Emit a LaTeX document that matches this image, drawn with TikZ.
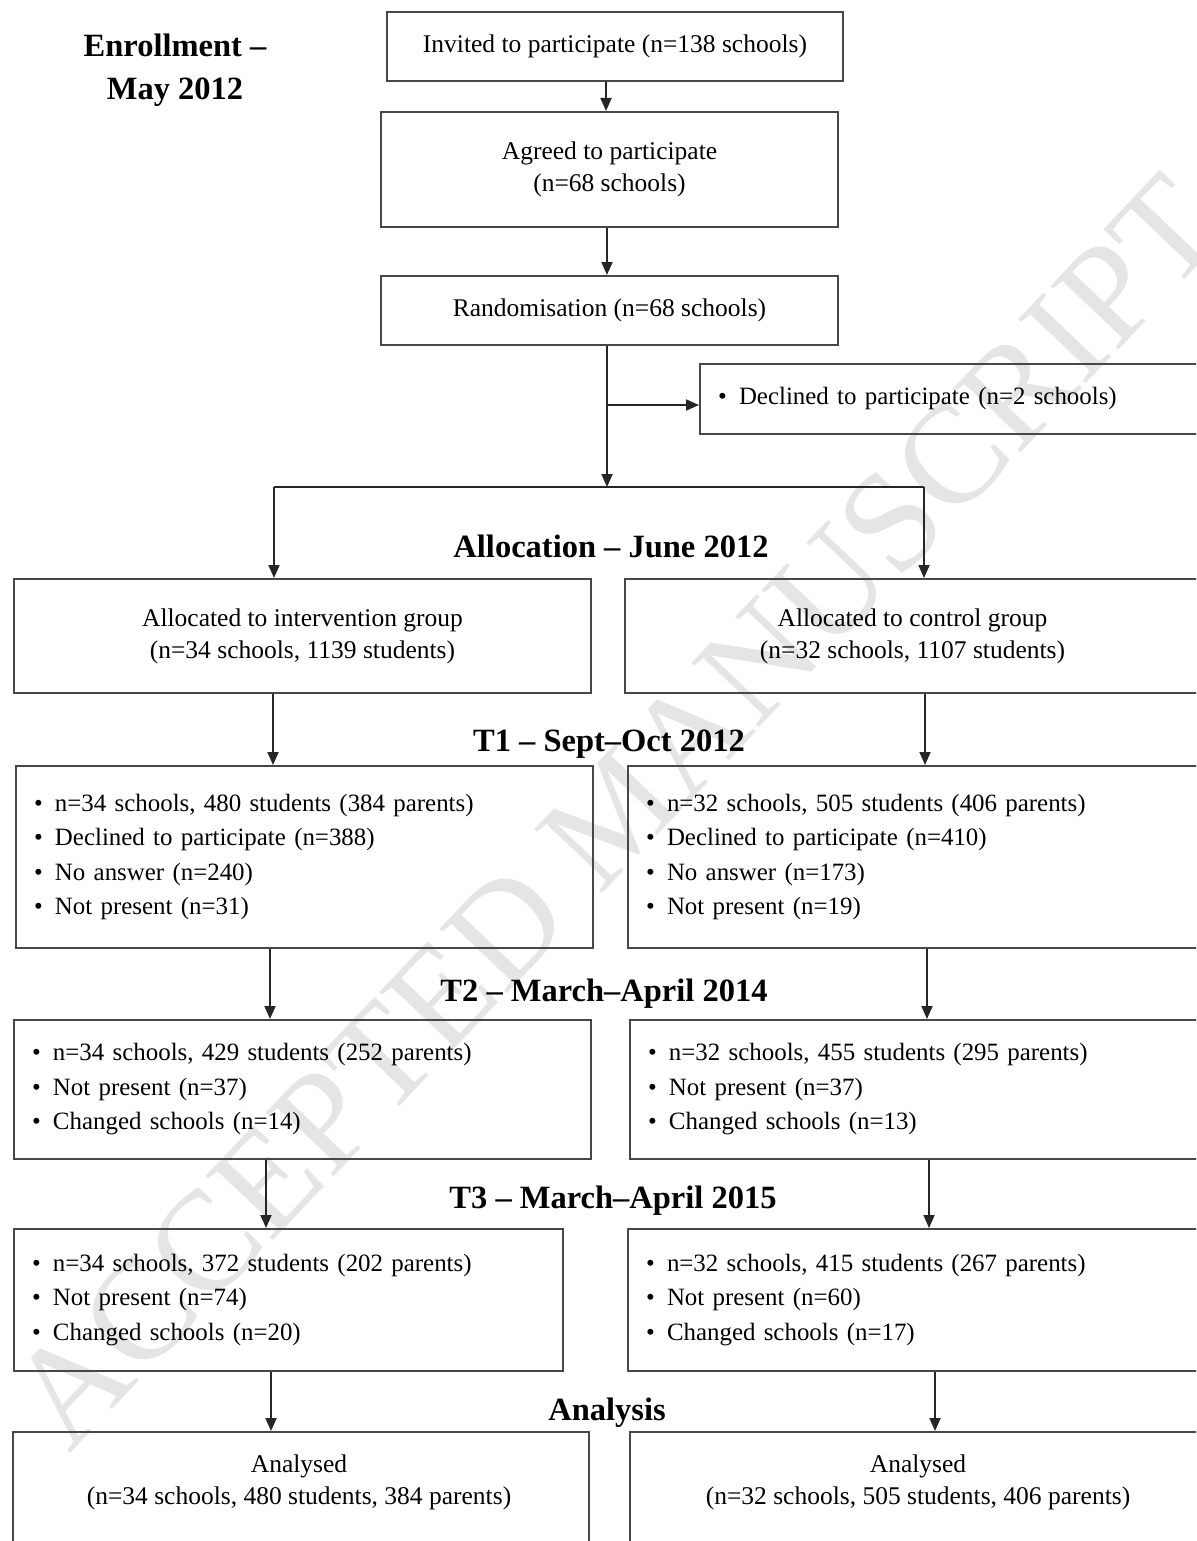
\documentclass[tikz,border=0pt]{standalone}
\usepackage{fontspec}
\setmainfont{Liberation Serif}
\usetikzlibrary{arrows.meta}
\newcommand{\bul}{\makebox[21pt][l]{\textbullet}}
\begin{document}
\begin{tikzpicture}[x=1pt,y=-1pt,
  box/.style={draw=black!72, line width=2pt, rectangle, inner sep=0pt, anchor=north west},
  ctext/.style={align=center, font=\fontsize{25.5}{32}\selectfont},
  btext/.style={align=left, inner xsep=18pt, font=\fontsize{24.9}{34.5}\selectfont},
  hdr/.style={font=\bfseries\fontsize{32.5}{43}\selectfont, anchor=base, inner sep=0pt},
  arr/.style={draw=black!85, line width=1.8pt, -{Triangle[length=13pt,width=11pt]}},
  ln/.style={draw=black!85, line width=1.8pt},
  wmark/.style={text=black!10, font=\fontsize{142}{142}\selectfont, rotate=46.5}
]
\useasboundingbox (0,0) rectangle (1196,1541);
\clip (0,0) rectangle (1196,1541);
\fill[white] (0,0) rectangle (1196,1541);

% watermark
\node[wmark] (wm) at (616,812) {ACCEPTED MANUSCRIPT};

% headers
\node[hdr, align=center, anchor=north] (henr) at (175,34) {Enrollment --\\May 2012};
\node[hdr] (halloc) at (611,557) {Allocation -- June 2012};
\node[hdr] (ht1) at (609,751) {T1 -- Sept--Oct 2012};
\node[hdr] (ht2) at (604,1001) {T2 -- March--April 2014};
\node[hdr] (ht3) at (613,1208) {T3 -- March--April 2015};
\node[hdr] (han) at (607,1420) {Analysis};

% enrollment boxes
\node[box, ctext, minimum width=456pt, minimum height=69pt] (inv) at (386,11) {Invited to participate (n=138 schools)};
\node[box, ctext, minimum width=457pt, minimum height=115pt] (agr) at (380,111) {Agreed to participate\\(n=68 schools)};
\node[box, ctext, minimum width=457pt, minimum height=69pt] (rnd) at (380,275) {Randomisation (n=68 schools)};
\node[box, btext, minimum width=520pt, text width=484pt, minimum height=70pt] (dec) at (699,363) {\bul Declined to participate (n=2 schools)};

% allocation
\node[box, ctext, minimum width=577pt, minimum height=114pt] (alL) at (13,578) {Allocated to intervention group\\(n=34 schools, 1139 students)};
\node[box, ctext, minimum width=575pt, minimum height=114pt] (alR) at (624,578) {Allocated to control group\\(n=32 schools, 1107 students)};

% T1
\node[box, btext, minimum width=577pt, text width=541pt, minimum height=182pt] (t1L) at (15,765) {\bul n=34 schools, 480 students (384 parents)\\\bul Declined to participate (n=388)\\\bul No answer (n=240)\\\bul Not present (n=31)};
\node[box, btext, minimum width=600pt, text width=564pt, minimum height=182pt] (t1R) at (627,765) {\bul n=32 schools, 505 students (406 parents)\\\bul Declined to participate (n=410)\\\bul No answer (n=173)\\\bul Not present (n=19)};

% T2
\node[box, btext, minimum width=577pt, text width=541pt, minimum height=139pt] (t2L) at (13,1019) {\bul n=34 schools, 429 students (252 parents)\\\bul Not present (n=37)\\\bul Changed schools (n=14)};
\node[box, btext, minimum width=600pt, text width=564pt, minimum height=139pt] (t2R) at (629,1019) {\bul n=32 schools, 455 students (295 parents)\\\bul Not present (n=37)\\\bul Changed schools (n=13)};

% T3
\node[box, btext, minimum width=549pt, text width=513pt, minimum height=142pt] (t3L) at (13,1228) {\bul n=34 schools, 372 students (202 parents)\\\bul Not present (n=74)\\\bul Changed schools (n=20)};
\node[box, btext, minimum width=600pt, text width=564pt, minimum height=142pt] (t3R) at (627,1228) {\bul n=32 schools, 415 students (267 parents)\\\bul Not present (n=60)\\\bul Changed schools (n=17)};

% analysis
\node[box, minimum width=576pt, minimum height=150pt] (anL) at (12,1431) {};
\node[box, minimum width=600pt, minimum height=150pt] (anR) at (629,1431) {};
\node[ctext] (anLt) at (299,1482) {Analysed\\(n=34 schools, 480 students, 384 parents)};
\node[ctext] (anRt) at (918,1482) {Analysed\\(n=32 schools, 505 students, 406 parents)};

% connector coordinates
\coordinate (split) at (607,487);
\coordinate (branch) at (607,405);
\coordinate (sL) at (274,487);
\coordinate (sR) at (924,487);
\coordinate (c0) at (606,0);
\coordinate (cL1) at (273,0);
\coordinate (cR1) at (925,0);
\coordinate (cL2) at (270,0);
\coordinate (cR2) at (927,0);
\coordinate (cL3) at (266,0);
\coordinate (cR3) at (929,0);
\coordinate (cL4) at (271,0);
\coordinate (cR4) at (935,0);

% connectors
\draw[arr] (c0 |- inv.south) -- (c0 |- agr.north);
\draw[arr] (split |- agr.south) -- (split |- rnd.north);
\draw[arr] (split |- rnd.south) -- (split);
\draw[arr] (branch) -- (branch -| dec.west);
\draw[ln] (sL) -- (sR);
\draw[arr] (sL) -- (sL |- alL.north);
\draw[arr] (sR) -- (sR |- alR.north);
\draw[arr] (cL1 |- alL.south) -- (cL1 |- t1L.north);
\draw[arr] (cR1 |- alR.south) -- (cR1 |- t1R.north);
\draw[arr] (cL2 |- t1L.south) -- (cL2 |- t2L.north);
\draw[arr] (cR2 |- t1R.south) -- (cR2 |- t2R.north);
\draw[arr] (cL3 |- t2L.south) -- (cL3 |- t3L.north);
\draw[arr] (cR3 |- t2R.south) -- (cR3 |- t3R.north);
\draw[arr] (cL4 |- t3L.south) -- (cL4 |- anL.north);
\draw[arr] (cR4 |- t3R.south) -- (cR4 |- anR.north);
\end{tikzpicture}
\end{document}
